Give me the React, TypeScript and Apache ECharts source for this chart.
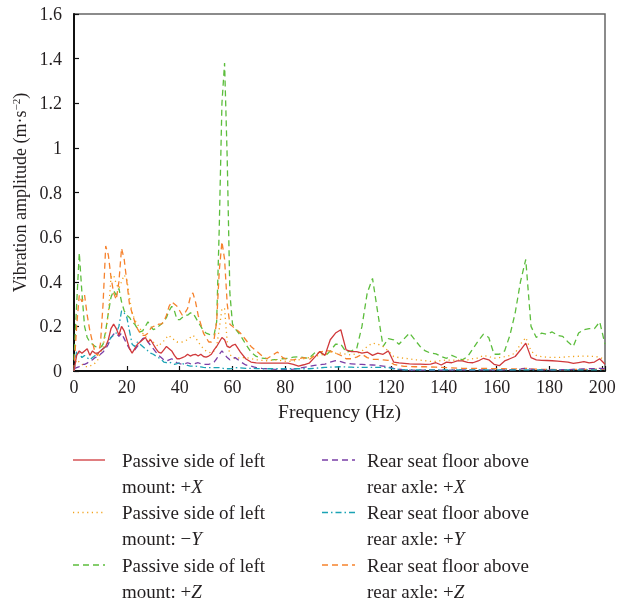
import React, { useEffect, useRef } from 'react';
import * as echarts from 'echarts';

const FONT = '"Liberation Serif", "DejaVu Serif", serif';
const TXT = '#231f20';

// Frequency grid (Hz): 1 Hz steps up to 60 Hz, then 2 Hz steps 61..201 Hz
const FREQ_LO: number[] = Array.from({ length: 61 }, (_, i) => i);
const FREQ_HI: number[] = Array.from({ length: 71 }, (_, i) => 61 + 2 * i);
const FREQ: number[] = [...FREQ_LO, ...FREQ_HI];

const X_TICKS = [0, 20, 40, 60, 80, 100, 120, 140, 160, 180, 200];

const NAMES = [
  'Passive side of left\nmount: +{i|X}',
  'Passive side of left\nmount: \u2212{i|Y}',
  'Passive side of left\nmount: +{i|Z}',
  'Rear seat floor above\nrear axle: +{i|X}',
  'Rear seat floor above\nrear axle: +{i|Y}',
  'Rear seat floor above\nrear axle: +{i|Z}',
];
const SERIES_IDS = ['Passive +X', 'Passive -Y', 'Passive +Z', 'Rear +X', 'Rear +Y', 'Rear +Z'];

// Passive side of left mount: +X
const passXLo = [
  0.0, 0.07, 0.09, 0.08, 0.09, 0.1, 0.07, 0.09, 0.08, 0.08,
  0.09, 0.1, 0.11, 0.14, 0.19, 0.21, 0.19, 0.16, 0.2, 0.18,
  0.14, 0.1, 0.08, 0.1, 0.12, 0.13, 0.14, 0.15, 0.13, 0.14,
  0.12, 0.1, 0.085, 0.08, 0.095, 0.11, 0.1, 0.09, 0.07, 0.055,
  0.055, 0.06, 0.065, 0.075, 0.067, 0.072, 0.075, 0.067, 0.075, 0.065,
  0.062, 0.067, 0.075, 0.095, 0.11, 0.13, 0.15, 0.14, 0.11, 0.105,
  0.115,
];
const passXHi = [
  0.12, 0.085, 0.055, 0.04, 0.036, 0.035, 0.035, 0.035, 0.035, 0.035,
  0.035, 0.03, 0.022, 0.028, 0.035, 0.06, 0.087, 0.07, 0.14, 0.17,
  0.185, 0.095, 0.087, 0.087, 0.08, 0.085, 0.07, 0.08, 0.075, 0.09,
  0.04, 0.036, 0.034, 0.032, 0.031, 0.031, 0.03, 0.031, 0.037, 0.027,
  0.04, 0.037, 0.045, 0.045, 0.039, 0.037, 0.045, 0.057, 0.05, 0.03,
  0.024, 0.045, 0.055, 0.065, 0.094, 0.125, 0.06, 0.05, 0.048, 0.047,
  0.046, 0.044, 0.042, 0.04, 0.034, 0.038, 0.042, 0.036, 0.04, 0.055,
  0.03,
];

// Passive side of left mount: -Y
const passYLo = [
  0.02, 0.05, 0.04, 0.03, 0.02, 0.02, 0.02, 0.03, 0.035, 0.05,
  0.08, 0.11, 0.17, 0.26, 0.42, 0.43, 0.39, 0.37, 0.4, 0.43,
  0.41, 0.33, 0.26, 0.23, 0.21, 0.19, 0.17, 0.155, 0.145, 0.14,
  0.13, 0.12, 0.11, 0.125, 0.135, 0.15, 0.16, 0.145, 0.14, 0.13,
  0.13, 0.13, 0.135, 0.14, 0.15, 0.16, 0.15, 0.13, 0.115, 0.1,
  0.09, 0.085, 0.08, 0.09, 0.11, 0.19, 0.28, 0.28, 0.13, 0.075,
  0.06,
];
const passYHi = [
  0.055, 0.06, 0.06, 0.055, 0.05, 0.048, 0.046, 0.048, 0.05, 0.045,
  0.042, 0.045, 0.05, 0.055, 0.06, 0.065, 0.07, 0.075, 0.085, 0.08,
  0.08, 0.075, 0.072, 0.078, 0.09, 0.11, 0.125, 0.12, 0.11, 0.09,
  0.065, 0.06, 0.057, 0.055, 0.05, 0.049, 0.046, 0.043, 0.043, 0.047,
  0.049, 0.048, 0.049, 0.049, 0.05, 0.055, 0.058, 0.07, 0.065, 0.057,
  0.06, 0.064, 0.07, 0.08, 0.12, 0.15, 0.09, 0.07, 0.064, 0.062,
  0.061, 0.061, 0.062, 0.064, 0.065, 0.066, 0.067, 0.066, 0.065, 0.062,
  0.05,
];

// Passive side of left mount: +Z
const passZLo = [
  0.05, 0.3, 0.53, 0.35, 0.2, 0.15, 0.13, 0.12, 0.11, 0.105,
  0.105, 0.12, 0.18, 0.26, 0.33, 0.36, 0.34, 0.37, 0.31, 0.27,
  0.25, 0.24, 0.22, 0.21, 0.19, 0.175, 0.18, 0.2, 0.22, 0.2,
  0.185, 0.19, 0.2, 0.21, 0.22, 0.24, 0.27, 0.29, 0.27, 0.23,
  0.23, 0.24, 0.25, 0.25, 0.26, 0.26, 0.24, 0.22, 0.2, 0.18,
  0.17, 0.165, 0.16, 0.16, 0.22, 0.65, 1.2, 1.38, 0.95, 0.35,
  0.21,
];
const passZHi = [
  0.19, 0.16, 0.12, 0.085, 0.065, 0.058, 0.055, 0.05, 0.052, 0.055,
  0.057, 0.062, 0.064, 0.06, 0.057, 0.08, 0.087, 0.066, 0.09, 0.12,
  0.12, 0.085, 0.09, 0.1, 0.2, 0.35, 0.415, 0.26, 0.11, 0.145,
  0.14, 0.12, 0.145, 0.17, 0.14, 0.11, 0.09, 0.08, 0.077, 0.065,
  0.057, 0.07, 0.06, 0.05, 0.065, 0.1, 0.135, 0.165, 0.15, 0.075,
  0.075, 0.09, 0.16, 0.26, 0.4, 0.5, 0.2, 0.15, 0.17, 0.165,
  0.175, 0.16, 0.155, 0.13, 0.11, 0.17, 0.185, 0.19, 0.19, 0.22,
  0.12,
];

// Rear seat floor above rear axle: +X
const rearXLo = [
  0.01, 0.015, 0.02, 0.03, 0.03, 0.035, 0.045, 0.05, 0.06, 0.065,
  0.075, 0.085, 0.1, 0.12, 0.15, 0.165, 0.17, 0.155, 0.17, 0.145,
  0.12, 0.1, 0.09, 0.095, 0.11, 0.13, 0.145, 0.15, 0.13, 0.115,
  0.1, 0.085, 0.07, 0.06, 0.05, 0.045, 0.05, 0.055, 0.045, 0.037,
  0.033, 0.03, 0.033, 0.037, 0.033, 0.03, 0.034, 0.037, 0.033, 0.03,
  0.03, 0.03, 0.034, 0.04, 0.055, 0.075, 0.09, 0.075, 0.06, 0.05,
  0.057,
];
const rearXHi = [
  0.06, 0.042, 0.027, 0.022, 0.015, 0.012, 0.01, 0.008, 0.007, 0.007,
  0.007, 0.008, 0.012, 0.016, 0.02, 0.025, 0.028, 0.031, 0.04, 0.046,
  0.042, 0.034, 0.032, 0.03, 0.03, 0.028, 0.027, 0.025, 0.022, 0.018,
  0.012, 0.008, 0.005, 0.004, 0.004, 0.004, 0.004, 0.004, 0.004, 0.004,
  0.004, 0.004, 0.005, 0.005, 0.004, 0.004, 0.005, 0.005, 0.005, 0.004,
  0.004, 0.005, 0.005, 0.006, 0.008, 0.012, 0.008, 0.006, 0.005, 0.005,
  0.005, 0.005, 0.006, 0.006, 0.007, 0.008, 0.009, 0.01, 0.011, 0.012,
  0.01,
];

// Rear seat floor above rear axle: +Y
const rearYLo = [
  0.0, 0.09, 0.08, 0.06, 0.07, 0.06, 0.05, 0.06, 0.07, 0.08,
  0.09, 0.1, 0.11, 0.13, 0.15, 0.16, 0.17, 0.2, 0.27, 0.26,
  0.24, 0.18, 0.12, 0.11, 0.13, 0.12, 0.11, 0.1, 0.09, 0.08,
  0.075, 0.067, 0.06, 0.052, 0.04, 0.037, 0.04, 0.035, 0.03, 0.033,
  0.037, 0.033, 0.03, 0.025, 0.022, 0.022, 0.022, 0.02, 0.018, 0.016,
  0.015, 0.015, 0.015, 0.015, 0.015, 0.015, 0.013, 0.01, 0.01, 0.01,
  0.012,
];
const rearYHi = [
  0.015, 0.014, 0.012, 0.012, 0.011, 0.01, 0.01, 0.01, 0.01, 0.01,
  0.01, 0.01, 0.01, 0.01, 0.01, 0.012, 0.014, 0.016, 0.017, 0.018,
  0.019, 0.018, 0.017, 0.016, 0.016, 0.016, 0.016, 0.016, 0.016, 0.015,
  0.01, 0.007, 0.005, 0.005, 0.005, 0.005, 0.005, 0.005, 0.005, 0.005,
  0.005, 0.005, 0.005, 0.005, 0.005, 0.005, 0.005, 0.005, 0.005, 0.005,
  0.005, 0.005, 0.005, 0.005, 0.005, 0.005, 0.005, 0.005, 0.005, 0.005,
  0.005, 0.005, 0.005, 0.005, 0.005, 0.005, 0.005, 0.005, 0.005, 0.005,
  0.005,
];

// Rear seat floor above rear axle: +Z
const rearZLo = [
  0.0, 0.2, 0.34, 0.31, 0.34, 0.25, 0.18, 0.13, 0.08, 0.07,
  0.12, 0.3, 0.56, 0.52, 0.42, 0.35, 0.32, 0.4, 0.55, 0.5,
  0.4, 0.3, 0.26, 0.22, 0.19, 0.17, 0.16, 0.16, 0.17, 0.19,
  0.2, 0.2, 0.21, 0.21, 0.22, 0.25, 0.29, 0.31, 0.3, 0.29,
  0.27, 0.25, 0.26, 0.28, 0.33, 0.35, 0.31, 0.25, 0.21, 0.17,
  0.15, 0.13, 0.13, 0.14, 0.22, 0.45, 0.58, 0.5, 0.3, 0.21,
  0.2,
];
const rearZHi = [
  0.19, 0.17, 0.14, 0.11, 0.09, 0.07, 0.055, 0.07, 0.085, 0.06,
  0.05, 0.05, 0.055, 0.06, 0.05, 0.07, 0.085, 0.09, 0.09, 0.08,
  0.07, 0.055, 0.055, 0.062, 0.075, 0.06, 0.052, 0.052, 0.05, 0.048,
  0.03, 0.024, 0.021, 0.02, 0.019, 0.019, 0.019, 0.018, 0.017, 0.016,
  0.015, 0.014, 0.013, 0.012, 0.012, 0.012, 0.012, 0.012, 0.011, 0.01,
  0.01, 0.01, 0.009, 0.009, 0.01, 0.012, 0.009, 0.008, 0.007, 0.007,
  0.007, 0.006, 0.006, 0.006, 0.007, 0.007, 0.007, 0.007, 0.008, 0.008,
  0.007,
];

const VALUES = [
  [...passXLo, ...passXHi],
  [...passYLo, ...passYHi],
  [...passZLo, ...passZHi],
  [...rearXLo, ...rearXHi],
  [...rearYLo, ...rearYHi],
  [...rearZLo, ...rearZHi],
];

const COLORS = ['#d0393b', '#f2a31c', '#5cbd3c', '#7a3ea6', '#1ba3b5', '#f6822d'];
const DASHES: (string | number[])[] = ['solid', [1.2, 3.5], [6, 4], [6, 4], [6, 3, 1.5, 3], [6, 4]];
const Z_ORDER = [6, 3, 1, 4, 5, 2];

export default function App() {
  const ref = useRef<HTMLDivElement>(null);
  useEffect(() => {
    if (!ref.current) return;
    const chart = echarts.init(ref.current, null, { renderer: 'svg' });
    const series = VALUES.map((vals, k) => ({
      name: SERIES_IDS[k],
      type: 'line',
      data: FREQ.map((f, i) => [f, vals[i]]),
      symbol: 'none',
      showSymbol: false,
      z: Z_ORDER[k],
      lineStyle: { color: COLORS[k], width: 1.3, type: DASHES[k] as any },
      itemStyle: { color: COLORS[k] },
    }));

    const legendEls: any[] = [];
    NAMES.forEach((nm, k) => {
      const col = k < 3 ? 0 : 1;
      const row = k % 3;
      const y = 460 + row * 52.5;
      const x1 = col ? 322 : 73;
      const x2 = col ? 355 : 105;
      const tx = col ? 367 : 122;
      const dash = DASHES[k];
      legendEls.push({
        type: 'line',
        shape: { x1, y1: y, x2, y2: y },
        style: {
          stroke: COLORS[k],
          lineWidth: 1.3,
          lineDash: Array.isArray(dash) ? dash : null,
        },
      });
      legendEls.push({
        type: 'text',
        x: tx,
        y: y - 13,
        style: {
          text: nm,
          fill: TXT,
          fontSize: 19,
          fontFamily: FONT,
          lineHeight: 26,
          rich: {
            i: { fontStyle: 'italic', fontSize: 19, fontFamily: FONT, lineHeight: 26, fill: TXT },
          },
        },
      });
    });

    chart.setOption({
      animation: false,
      grid: {
        left: 74, right: 14, top: 14, bottom: 235,
        show: true, borderColor: '#666', borderWidth: 1.5, backgroundColor: 'transparent',
      },
      xAxis: {
        type: 'value', min: 0, max: 201, interval: 20,
        name: 'Frequency (Hz)', nameLocation: 'middle', nameGap: 30,
        nameTextStyle: { color: TXT, fontSize: 19.5, fontFamily: FONT },
        axisLine: { show: true, onZero: false, lineStyle: { color: '#111', width: 2 } },
        axisTick: { show: true, inside: true, length: 5, lineStyle: { color: '#111', width: 1.2 } },
        axisLabel: {
          color: TXT, fontSize: 18, fontFamily: FONT, margin: 7,
          formatter: (v: number) => (X_TICKS.includes(v) ? String(v) : ''),
        },
        splitLine: { show: false },
      },
      yAxis: {
        type: 'value', min: 0, max: 1.6, interval: 0.2,
        name: 'Vibration amplitude (m\u00b7s{sup|\u22122})', nameLocation: 'middle', nameGap: 45,
        nameTextStyle: {
          color: TXT, fontSize: 18, fontFamily: FONT,
          rich: { sup: { fontSize: 11, fontFamily: FONT, color: TXT, verticalAlign: 'top', padding: [0, 0, 8, 0] } },
        },
        axisLine: { show: true, onZero: false, lineStyle: { color: '#111', width: 2 } },
        axisTick: { show: true, inside: true, length: 5, lineStyle: { color: '#111', width: 1.2 } },
        axisLabel: {
          color: TXT, fontSize: 18, fontFamily: FONT, margin: 12,
          formatter: (v: number) => String(Math.round(v * 10) / 10),
        },
        splitLine: { show: false },
      },
      series,
      graphic: legendEls,
    });
    return () => chart.dispose();
  }, []);
  return <div ref={ref} style={{ position: 'fixed', left: 0, top: 0, width: 619, height: 606 }} />;
}
